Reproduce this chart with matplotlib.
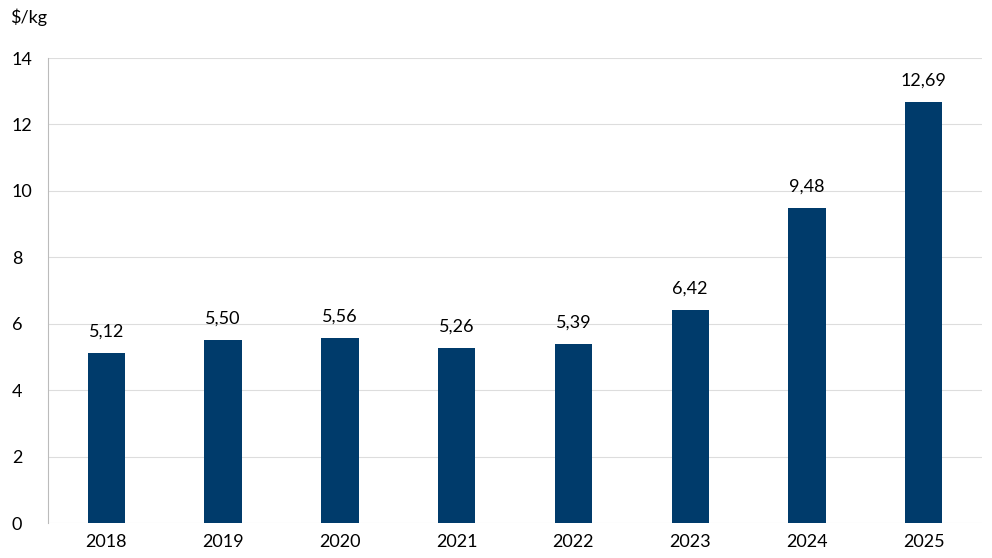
import numpy as np
import matplotlib
matplotlib.use("Agg")
import matplotlib.pyplot as plt

years = ['2018', '2019', '2020', '2021', '2022', '2023', '2024', '2025']
prices = [5.12, 5.50, 5.56, 5.26, 5.39, 6.42, 9.48, 12.69]
labels = ['5,12', '5,50', '5,56', '5,26', '5,39', '6,42', '9,48', '12,69']

plt.rcParams['font.family'] = ['Lato', 'DejaVu Sans']

fig = plt.figure(figsize=(9.92, 5.58), dpi=100)
ax = fig.add_axes([0.0484, 0.0627, 0.9416, 0.8333])

x = np.arange(len(years))
ax.bar(x, prices, width=0.32, color='#003b6b', zorder=3)
for xi, v, t in zip(x, prices, labels):
    ax.text(xi, v + 0.4, t, ha='center', va='bottom', fontsize=13)

ax.set_xlim(-0.5, len(years) - 0.5)
ax.set_ylim(0, 14)
ax.set_yticks(range(0, 15, 2))
ax.set_xticks(x)
ax.set_xticklabels(years)
ax.tick_params(axis='both', length=0, labelsize=13)
ax.tick_params(axis='x', pad=8)
ax.grid(axis='y', color='#dddddd', linewidth=0.8, zorder=0)
for s in ['top', 'right', 'bottom']:
    ax.spines[s].set_visible(False)
ax.spines['left'].set_color('#bbbbbb')
for lab in ax.get_yticklabels():
    lab.set_horizontalalignment('left')
ax.tick_params(axis='y', pad=26)

fig.text(0.010, 0.985, '$/kg', fontsize=13, va='top', ha='left')

fig.savefig('out.png', dpi=100)
